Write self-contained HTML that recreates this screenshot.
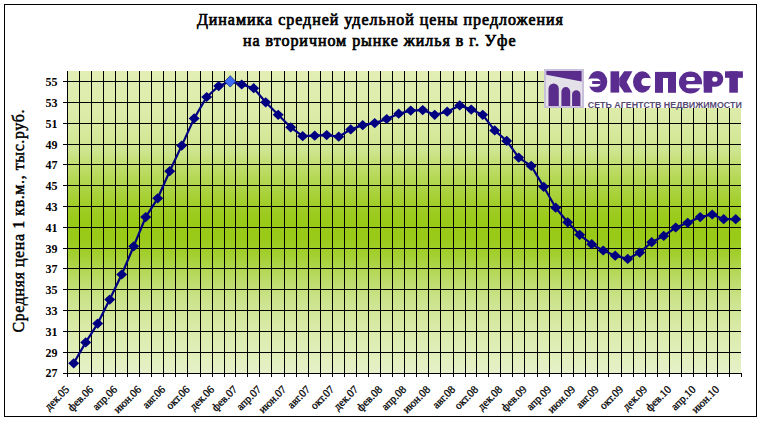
<!DOCTYPE html>
<html><head><meta charset="utf-8"><style>
html,body{margin:0;padding:0;background:#fff;}
body{width:762px;height:421px;overflow:hidden;position:relative;}
svg{position:absolute;left:0;top:0;}
.t{font-family:"Liberation Serif",serif;font-weight:bold;font-size:16px;}
.yl{font-family:"Liberation Serif",serif;font-weight:bold;font-size:12px;}
.xl{font-family:"Liberation Serif",serif;font-size:11px;stroke:#000;stroke-width:0.3px;}
.lg{font-family:"Liberation Sans",sans-serif;font-weight:bold;}
</style></head><body>
<svg width="762" height="421" viewBox="0 0 762 421">
<defs>
<linearGradient id="g" x1="0" y1="0" x2="0" y2="1">
<stop offset="0.000" stop-color="#e2eeb5"/>
<stop offset="0.162" stop-color="#dbeba6"/>
<stop offset="0.262" stop-color="#cfe58f"/>
<stop offset="0.344" stop-color="#b8d95c"/>
<stop offset="0.427" stop-color="#a4cf30"/>
<stop offset="0.493" stop-color="#99ca18"/>
<stop offset="0.553" stop-color="#99ca18"/>
<stop offset="0.609" stop-color="#a3cf30"/>
<stop offset="0.675" stop-color="#b7d95e"/>
<stop offset="0.758" stop-color="#cce38c"/>
<stop offset="0.858" stop-color="#daebaa"/>
<stop offset="1.000" stop-color="#e6f1c8"/>
</linearGradient>
</defs>
<rect x="4.5" y="4.5" width="752" height="412" fill="#fff" stroke="#000" stroke-width="1"/>
<g shape-rendering="crispEdges">
<rect x="68" y="71" width="673" height="302" fill="url(#g)"/>
<rect x="63" y="352" width="678" height="1" fill="#000"/>
<rect x="63" y="331" width="678" height="1" fill="#000"/>
<rect x="63" y="310" width="678" height="1" fill="#000"/>
<rect x="63" y="289" width="678" height="1" fill="#000"/>
<rect x="63" y="268" width="678" height="1" fill="#000"/>
<rect x="63" y="248" width="678" height="1" fill="#000"/>
<rect x="63" y="227" width="678" height="1" fill="#000"/>
<rect x="63" y="206" width="678" height="1" fill="#000"/>
<rect x="63" y="185" width="678" height="1" fill="#000"/>
<rect x="63" y="164" width="678" height="1" fill="#000"/>
<rect x="63" y="144" width="678" height="1" fill="#000"/>
<rect x="63" y="123" width="678" height="1" fill="#000"/>
<rect x="63" y="102" width="678" height="1" fill="#000"/>
<rect x="63" y="81" width="678" height="1" fill="#000"/>
<rect x="63" y="373" width="678" height="1" fill="#000"/>
<rect x="67" y="71" width="1" height="306" fill="#000"/>
<rect x="79" y="71" width="1" height="306" fill="#000"/>
<rect x="91" y="71" width="1" height="306" fill="#000"/>
<rect x="103" y="71" width="1" height="306" fill="#000"/>
<rect x="115" y="71" width="1" height="306" fill="#000"/>
<rect x="127" y="71" width="1" height="306" fill="#000"/>
<rect x="139" y="71" width="1" height="306" fill="#000"/>
<rect x="151" y="71" width="1" height="306" fill="#000"/>
<rect x="163" y="71" width="1" height="306" fill="#000"/>
<rect x="175" y="71" width="1" height="306" fill="#000"/>
<rect x="187" y="71" width="1" height="306" fill="#000"/>
<rect x="200" y="71" width="1" height="306" fill="#000"/>
<rect x="212" y="71" width="1" height="306" fill="#000"/>
<rect x="224" y="71" width="1" height="306" fill="#000"/>
<rect x="235" y="71" width="1" height="306" fill="#000"/>
<rect x="247" y="71" width="1" height="306" fill="#000"/>
<rect x="259" y="71" width="1" height="306" fill="#000"/>
<rect x="271" y="71" width="1" height="306" fill="#000"/>
<rect x="284" y="71" width="1" height="306" fill="#000"/>
<rect x="296" y="71" width="1" height="306" fill="#000"/>
<rect x="308" y="71" width="1" height="306" fill="#000"/>
<rect x="320" y="71" width="1" height="306" fill="#000"/>
<rect x="332" y="71" width="1" height="306" fill="#000"/>
<rect x="344" y="71" width="1" height="306" fill="#000"/>
<rect x="356" y="71" width="1" height="306" fill="#000"/>
<rect x="368" y="71" width="1" height="306" fill="#000"/>
<rect x="380" y="71" width="1" height="306" fill="#000"/>
<rect x="392" y="71" width="1" height="306" fill="#000"/>
<rect x="404" y="71" width="1" height="306" fill="#000"/>
<rect x="416" y="71" width="1" height="306" fill="#000"/>
<rect x="428" y="71" width="1" height="306" fill="#000"/>
<rect x="440" y="71" width="1" height="306" fill="#000"/>
<rect x="453" y="71" width="1" height="306" fill="#000"/>
<rect x="465" y="71" width="1" height="306" fill="#000"/>
<rect x="476" y="71" width="1" height="306" fill="#000"/>
<rect x="488" y="71" width="1" height="306" fill="#000"/>
<rect x="500" y="71" width="1" height="306" fill="#000"/>
<rect x="512" y="71" width="1" height="306" fill="#000"/>
<rect x="524" y="71" width="1" height="306" fill="#000"/>
<rect x="537" y="71" width="1" height="306" fill="#000"/>
<rect x="549" y="71" width="1" height="306" fill="#000"/>
<rect x="561" y="71" width="1" height="306" fill="#000"/>
<rect x="573" y="71" width="1" height="306" fill="#000"/>
<rect x="585" y="71" width="1" height="306" fill="#000"/>
<rect x="597" y="71" width="1" height="306" fill="#000"/>
<rect x="608" y="71" width="1" height="306" fill="#000"/>
<rect x="621" y="71" width="1" height="306" fill="#000"/>
<rect x="633" y="71" width="1" height="306" fill="#000"/>
<rect x="645" y="71" width="1" height="306" fill="#000"/>
<rect x="657" y="71" width="1" height="306" fill="#000"/>
<rect x="669" y="71" width="1" height="306" fill="#000"/>
<rect x="681" y="71" width="1" height="306" fill="#000"/>
<rect x="693" y="71" width="1" height="306" fill="#000"/>
<rect x="706" y="71" width="1" height="306" fill="#000"/>
<rect x="717" y="71" width="1" height="306" fill="#000"/>
<rect x="729" y="71" width="1" height="306" fill="#000"/>
<rect x="741" y="373" width="1" height="4" fill="#000"/>

</g>
<polyline points="73.7,363.3 85.7,342.4 97.7,323.6 109.7,299.6 121.7,274.5 133.7,246.3 145.7,217.1 157.7,198.3 169.7,171.2 181.7,145.6 194.2,118.4 206.7,97.0 218.7,86.1 230.2,81.4 241.7,84.5 253.7,88.2 265.7,102.3 278.2,114.8 290.7,127.3 302.7,136.2 314.7,135.7 326.7,135.1 338.7,136.7 350.7,129.4 362.7,125.2 374.7,123.1 386.7,119.0 398.7,113.7 410.7,110.6 422.7,110.1 434.7,114.8 447.2,111.7 459.7,105.4 471.2,109.6 482.7,114.8 494.7,130.4 506.7,140.9 518.7,157.6 531.2,165.9 543.7,186.8 555.7,207.7 567.7,222.3 579.7,234.8 591.7,244.2 603.2,250.5 615.2,255.7 627.7,258.9 639.7,252.6 651.7,242.2 663.7,235.9 675.7,227.5 687.7,222.8 700.2,217.1 712.2,214.5 723.7,219.2 735.7,219.2" fill="none" stroke="#000080" stroke-width="2.2" stroke-linejoin="round"/>
<path d="M73.7,358.2L79.2,363.3L73.7,368.4L68.2,363.3Z" fill="#000080"/>
<path d="M85.7,337.3L91.2,342.4L85.7,347.5L80.2,342.4Z" fill="#000080"/>
<path d="M97.7,318.5L103.2,323.6L97.7,328.7L92.2,323.6Z" fill="#000080"/>
<path d="M109.7,294.5L115.2,299.6L109.7,304.7L104.2,299.6Z" fill="#000080"/>
<path d="M121.7,269.4L127.2,274.5L121.7,279.6L116.2,274.5Z" fill="#000080"/>
<path d="M133.7,241.2L139.2,246.3L133.7,251.4L128.2,246.3Z" fill="#000080"/>
<path d="M145.7,212.0L151.2,217.1L145.7,222.2L140.2,217.1Z" fill="#000080"/>
<path d="M157.7,193.2L163.2,198.3L157.7,203.4L152.2,198.3Z" fill="#000080"/>
<path d="M169.7,166.1L175.2,171.2L169.7,176.3L164.2,171.2Z" fill="#000080"/>
<path d="M181.7,140.5L187.2,145.6L181.7,150.7L176.2,145.6Z" fill="#000080"/>
<path d="M194.2,113.3L199.7,118.4L194.2,123.5L188.7,118.4Z" fill="#000080"/>
<path d="M206.7,91.9L212.2,97.0L206.7,102.1L201.2,97.0Z" fill="#000080"/>
<path d="M218.7,81.0L224.2,86.1L218.7,91.2L213.2,86.1Z" fill="#000080"/>
<path d="M230.2,75.7L235.7,81.4L230.2,87.1L224.7,81.4Z" fill="#3c6cf4" stroke="#1a2a80" stroke-width="0.8"/>
<path d="M241.7,79.4L247.2,84.5L241.7,89.6L236.2,84.5Z" fill="#000080"/>
<path d="M253.7,83.1L259.2,88.2L253.7,93.3L248.2,88.2Z" fill="#000080"/>
<path d="M265.7,97.2L271.2,102.3L265.7,107.4L260.2,102.3Z" fill="#000080"/>
<path d="M278.2,109.7L283.7,114.8L278.2,119.9L272.7,114.8Z" fill="#000080"/>
<path d="M290.7,122.2L296.2,127.3L290.7,132.4L285.2,127.3Z" fill="#000080"/>
<path d="M302.7,131.1L308.2,136.2L302.7,141.3L297.2,136.2Z" fill="#000080"/>
<path d="M314.7,130.6L320.2,135.7L314.7,140.8L309.2,135.7Z" fill="#000080"/>
<path d="M326.7,130.0L332.2,135.1L326.7,140.2L321.2,135.1Z" fill="#000080"/>
<path d="M338.7,131.6L344.2,136.7L338.7,141.8L333.2,136.7Z" fill="#000080"/>
<path d="M350.7,124.3L356.2,129.4L350.7,134.5L345.2,129.4Z" fill="#000080"/>
<path d="M362.7,120.1L368.2,125.2L362.7,130.3L357.2,125.2Z" fill="#000080"/>
<path d="M374.7,118.0L380.2,123.1L374.7,128.2L369.2,123.1Z" fill="#000080"/>
<path d="M386.7,113.9L392.2,119.0L386.7,124.1L381.2,119.0Z" fill="#000080"/>
<path d="M398.7,108.6L404.2,113.7L398.7,118.8L393.2,113.7Z" fill="#000080"/>
<path d="M410.7,105.5L416.2,110.6L410.7,115.7L405.2,110.6Z" fill="#000080"/>
<path d="M422.7,105.0L428.2,110.1L422.7,115.2L417.2,110.1Z" fill="#000080"/>
<path d="M434.7,109.7L440.2,114.8L434.7,119.9L429.2,114.8Z" fill="#000080"/>
<path d="M447.2,106.6L452.7,111.7L447.2,116.8L441.7,111.7Z" fill="#000080"/>
<path d="M459.7,100.3L465.2,105.4L459.7,110.5L454.2,105.4Z" fill="#000080"/>
<path d="M471.2,104.5L476.7,109.6L471.2,114.7L465.7,109.6Z" fill="#000080"/>
<path d="M482.7,109.7L488.2,114.8L482.7,119.9L477.2,114.8Z" fill="#000080"/>
<path d="M494.7,125.3L500.2,130.4L494.7,135.5L489.2,130.4Z" fill="#000080"/>
<path d="M506.7,135.8L512.2,140.9L506.7,146.0L501.2,140.9Z" fill="#000080"/>
<path d="M518.7,152.5L524.2,157.6L518.7,162.7L513.2,157.6Z" fill="#000080"/>
<path d="M531.2,160.8L536.7,165.9L531.2,171.0L525.7,165.9Z" fill="#000080"/>
<path d="M543.7,181.7L549.2,186.8L543.7,191.9L538.2,186.8Z" fill="#000080"/>
<path d="M555.7,202.6L561.2,207.7L555.7,212.8L550.2,207.7Z" fill="#000080"/>
<path d="M567.7,217.2L573.2,222.3L567.7,227.4L562.2,222.3Z" fill="#000080"/>
<path d="M579.7,229.7L585.2,234.8L579.7,239.9L574.2,234.8Z" fill="#000080"/>
<path d="M591.7,239.1L597.2,244.2L591.7,249.3L586.2,244.2Z" fill="#000080"/>
<path d="M603.2,245.4L608.7,250.5L603.2,255.6L597.7,250.5Z" fill="#000080"/>
<path d="M615.2,250.6L620.7,255.7L615.2,260.8L609.7,255.7Z" fill="#000080"/>
<path d="M627.7,253.8L633.2,258.9L627.7,264.0L622.2,258.9Z" fill="#000080"/>
<path d="M639.7,247.5L645.2,252.6L639.7,257.7L634.2,252.6Z" fill="#000080"/>
<path d="M651.7,237.1L657.2,242.2L651.7,247.3L646.2,242.2Z" fill="#000080"/>
<path d="M663.7,230.8L669.2,235.9L663.7,241.0L658.2,235.9Z" fill="#000080"/>
<path d="M675.7,222.4L681.2,227.5L675.7,232.6L670.2,227.5Z" fill="#000080"/>
<path d="M687.7,217.7L693.2,222.8L687.7,227.9L682.2,222.8Z" fill="#000080"/>
<path d="M700.2,212.0L705.7,217.1L700.2,222.2L694.7,217.1Z" fill="#000080"/>
<path d="M712.2,209.4L717.7,214.5L712.2,219.6L706.7,214.5Z" fill="#000080"/>
<path d="M723.7,214.1L729.2,219.2L723.7,224.3L718.2,219.2Z" fill="#000080"/>
<path d="M735.7,214.1L741.2,219.2L735.7,224.3L730.2,219.2Z" fill="#000080"/>
<text x="57.5" y="376.6" text-anchor="end" class="yl">27</text>
<text x="57.5" y="356.8" text-anchor="end" class="yl">29</text>
<text x="57.5" y="335.8" text-anchor="end" class="yl">31</text>
<text x="57.5" y="314.8" text-anchor="end" class="yl">33</text>
<text x="57.5" y="293.8" text-anchor="end" class="yl">35</text>
<text x="57.5" y="272.8" text-anchor="end" class="yl">37</text>
<text x="57.5" y="252.8" text-anchor="end" class="yl">39</text>
<text x="57.5" y="231.8" text-anchor="end" class="yl">41</text>
<text x="57.5" y="210.8" text-anchor="end" class="yl">43</text>
<text x="57.5" y="189.8" text-anchor="end" class="yl">45</text>
<text x="57.5" y="168.8" text-anchor="end" class="yl">47</text>
<text x="57.5" y="148.8" text-anchor="end" class="yl">49</text>
<text x="57.5" y="127.8" text-anchor="end" class="yl">51</text>
<text x="57.5" y="106.8" text-anchor="end" class="yl">53</text>
<text x="57.5" y="85.8" text-anchor="end" class="yl">55</text>
<text transform="translate(69.9,390) rotate(-45)" text-anchor="end" class="xl">дек.05</text>
<text transform="translate(93.9,390) rotate(-45)" text-anchor="end" class="xl">фев.06</text>
<text transform="translate(117.9,390) rotate(-45)" text-anchor="end" class="xl">апр.06</text>
<text transform="translate(141.9,390) rotate(-45)" text-anchor="end" class="xl">июн.06</text>
<text transform="translate(165.9,390) rotate(-45)" text-anchor="end" class="xl">авг.06</text>
<text transform="translate(190.4,390) rotate(-45)" text-anchor="end" class="xl">окт.06</text>
<text transform="translate(214.9,390) rotate(-45)" text-anchor="end" class="xl">дек.06</text>
<text transform="translate(237.9,390) rotate(-45)" text-anchor="end" class="xl">фев.07</text>
<text transform="translate(261.9,390) rotate(-45)" text-anchor="end" class="xl">апр.07</text>
<text transform="translate(286.9,390) rotate(-45)" text-anchor="end" class="xl">июн.07</text>
<text transform="translate(310.9,390) rotate(-45)" text-anchor="end" class="xl">авг.07</text>
<text transform="translate(334.9,390) rotate(-45)" text-anchor="end" class="xl">окт.07</text>
<text transform="translate(358.9,390) rotate(-45)" text-anchor="end" class="xl">дек.07</text>
<text transform="translate(382.9,390) rotate(-45)" text-anchor="end" class="xl">фев.08</text>
<text transform="translate(406.9,390) rotate(-45)" text-anchor="end" class="xl">апр.08</text>
<text transform="translate(430.9,390) rotate(-45)" text-anchor="end" class="xl">июн.08</text>
<text transform="translate(455.9,390) rotate(-45)" text-anchor="end" class="xl">авг.08</text>
<text transform="translate(478.9,390) rotate(-45)" text-anchor="end" class="xl">окт.08</text>
<text transform="translate(502.9,390) rotate(-45)" text-anchor="end" class="xl">дек.08</text>
<text transform="translate(527.4,390) rotate(-45)" text-anchor="end" class="xl">фев.09</text>
<text transform="translate(551.9,390) rotate(-45)" text-anchor="end" class="xl">апр.09</text>
<text transform="translate(575.9,390) rotate(-45)" text-anchor="end" class="xl">июн.09</text>
<text transform="translate(599.4,390) rotate(-45)" text-anchor="end" class="xl">авг.09</text>
<text transform="translate(623.9,390) rotate(-45)" text-anchor="end" class="xl">окт.09</text>
<text transform="translate(647.9,390) rotate(-45)" text-anchor="end" class="xl">дек.09</text>
<text transform="translate(671.9,390) rotate(-45)" text-anchor="end" class="xl">фев.10</text>
<text transform="translate(696.4,390) rotate(-45)" text-anchor="end" class="xl">апр.10</text>
<text transform="translate(719.9,390) rotate(-45)" text-anchor="end" class="xl">июн.10</text>
<text x="379.9" y="24.8" text-anchor="middle" class="t" style="font-weight:normal" stroke="#000" stroke-width="0.7" textLength="366" lengthAdjust="spacing">Динамика средней удельной цены предложения</text>
<text x="379.3" y="46.4" text-anchor="middle" class="t" style="font-weight:normal" stroke="#000" stroke-width="0.7" textLength="272.5" lengthAdjust="spacing">на вторичном рынке жилья в г. Уфе</text>
<text transform="translate(23.6,332.6) rotate(-90)" class="t" style="font-weight:normal" stroke="#000" stroke-width="0.45" textLength="223" lengthAdjust="spacing">Средняя цена 1 кв.м., тыс.руб.</text>
<!-- logo -->
<rect x="544" y="69" width="204" height="39" fill="#fff"/>
<g>
<rect x="544" y="69" width="40" height="39" fill="#c9c1dc"/>
<rect x="546" y="71" width="36" height="35" fill="#e4e2e8"/>
<path d="M546.3,71 L581.6,71 L581.6,81.6 L546.3,74.8 Z" fill="#5a2c8c"/>
<path d="M548.5,106 L548.5,89 A5.15,5.5 0 0 1 558.8,89 L558.8,106 Z" fill="#5a2c8c"/>
<path d="M561.4,106 L561.4,91.5 A4.4,4.4 0 0 1 570.2,91.5 L570.2,106 Z" fill="#5a2c8c"/>
<path d="M572.1,106 L572.1,94.4 A4.15,4.2 0 0 1 580.4,94.4 L580.4,106 Z" fill="#5a2c8c"/>
</g>
<g fill="#5b2c90">
<ellipse cx="597.8" cy="81.8" rx="9.5" ry="10.8"/>
<rect x="587" y="78.4" width="13.8" height="8.4" rx="4.2" fill="#fff"/>
<rect x="592.2" y="81" width="8.6" height="3" />
<rect x="610.5" y="71.3" width="8.7" height="21.3"/>
<polygon points="619.2,78.3 624.2,71.3 632.4,71.3 626.6,81.9 632.4,92.6 624.2,92.6 619.2,85.3"/>
<ellipse cx="642.2" cy="82" rx="9.2" ry="10.65"/>
<rect x="641.3" y="78" width="11.5" height="8" rx="4" fill="#fff"/>
<rect x="655" y="71.9" width="21" height="20.9"/>
<rect x="663" y="78" width="5" height="15" fill="#fff"/>
<ellipse cx="690.45" cy="82.55" rx="11.55" ry="11.05"/>
<rect x="686" y="77" width="9" height="4" rx="2" fill="#fff"/>
<rect x="686" y="84.2" width="17" height="4" rx="2" fill="#fff"/>
<rect x="703.7" y="71.3" width="8.5" height="21.4"/>
<path d="M703.7,71.3 H715.6 A7.7,7.7 0 0 1 715.6,86.7 H703.7 Z"/>
<rect x="712.2" y="76.7" width="5.3" height="5" rx="2.5" fill="#fff"/>
<rect x="725" y="71.3" width="17.9" height="6.5"/>
<rect x="729.3" y="71.3" width="8.6" height="21.4"/>
</g>
<text x="587.8" y="107.8" class="lg" font-size="8.6" fill="#564a74" textLength="154" lengthAdjust="spacingAndGlyphs">СЕТЬ АГЕНТСТВ НЕДВИЖИМОСТИ</text>
</svg>
</body></html>
